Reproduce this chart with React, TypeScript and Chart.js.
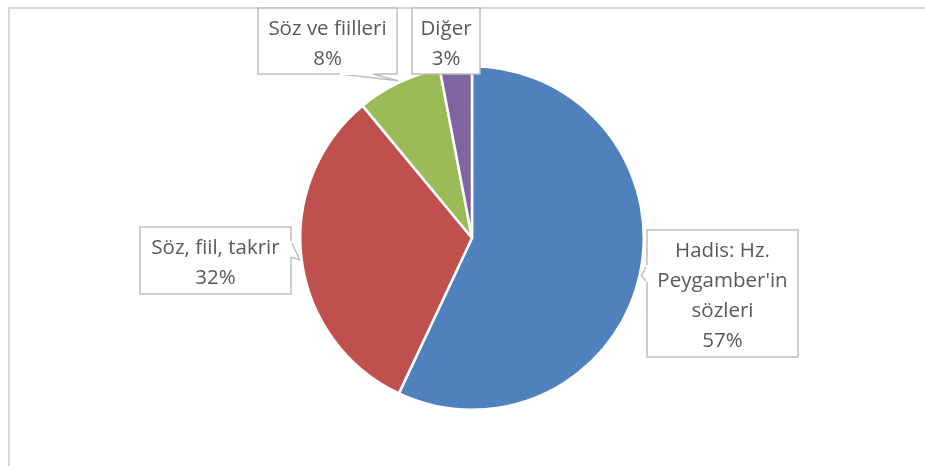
import React, { useEffect, useRef } from "react";
import { Chart, registerables } from "chart.js";

Chart.register(...registerables);

const categories = ["Hadis: Hz. Peygamber'in sözleri", "Söz, fiil, takrir", "Söz ve fiilleri", "Diğer"];
const labelLines = [["Hadis: Hz.", "Peygamber'in", "sözleri"], ["Söz, fiil, takrir"], ["Söz ve fiilleri"], ["Diğer"]];
const values = [57, 32, 8, 3];
const colors = ["#4f81bd", "#c0504d", "#9bbb59", "#8064a2"];

// callout layout: box rect and wedge base (two points on the box edge), tip from arc
const callouts = [
  { x: 647, y: 230, w: 151, h: 127, base: [[647, 265], [647, 282]] },
  { x: 140, y: 227, w: 151, h: 67, base: [[291, 241], [291, 257]] },
  { x: 258, y: 8, w: 139, h: 66, base: [[340, 74], [373, 74]] },
  { x: 412, y: 8, w: 68, h: 66, base: null },
];

const FONT = "20.5px 'Open Sans'";

const calloutPlugin = {
  id: "callouts",
  afterDraw(chart: any) {
    const ctx = chart.ctx as CanvasRenderingContext2D;
    const meta = chart.getDatasetMeta(0);
    ctx.save();
    ctx.strokeStyle = "#d9d9d9";
    ctx.lineWidth = 2;
    ctx.beginPath();
    ctx.moveTo(9, 466);
    ctx.lineTo(9, 8);
    ctx.lineTo(925, 8);
    ctx.stroke();

    meta.data.forEach((arc: any, i: number) => {
      const c = callouts[i];
      const p = arc.getProps(["x", "y", "startAngle", "endAngle", "outerRadius"], true);
      const mid = (p.startAngle + p.endAngle) / 2;
      const tipX = p.x + Math.cos(mid) * (p.outerRadius + 2);
      const tipY = p.y + Math.sin(mid) * (p.outerRadius + 2);
      ctx.fillStyle = "#ffffff";
      ctx.strokeStyle = "#bfbfbf";
      ctx.lineWidth = 1.5;
      ctx.fillRect(c.x, c.y, c.w, c.h);
      ctx.strokeRect(c.x, c.y, c.w, c.h);
      if (c.base) {
        ctx.beginPath();
        ctx.moveTo(c.base[0][0], c.base[0][1]);
        ctx.lineTo(tipX, tipY);
        ctx.lineTo(c.base[1][0], c.base[1][1]);
        ctx.closePath();
        ctx.fill();
        ctx.beginPath();
        ctx.moveTo(c.base[0][0], c.base[0][1]);
        ctx.lineTo(tipX, tipY);
        ctx.lineTo(c.base[1][0], c.base[1][1]);
        ctx.stroke();
        ctx.beginPath();
        ctx.moveTo(c.base[0][0], c.base[0][1]);
        ctx.lineTo(c.base[1][0], c.base[1][1]);
        ctx.strokeStyle = "#ffffff";
        ctx.lineWidth = 2;
        ctx.stroke();
      }
      const total = values.reduce((a, b) => a + b, 0);
      const pct = Math.round((values[i] / total) * 100) + "%";
      const lines = [...labelLines[i], pct];
      const lh = 30;
      ctx.fillStyle = "#595959";
      ctx.font = FONT;
      ctx.textAlign = "center";
      ctx.textBaseline = "middle";
      const cx = c.x + c.w / 2;
      const startY = c.y + c.h / 2 + 3 - ((lines.length - 1) * lh) / 2;
      lines.forEach((t, k) => ctx.fillText(t, cx, startY + k * lh));
    });
    ctx.restore();
  },
};

export default function App() {
  const ref = useRef<HTMLCanvasElement>(null);
  useEffect(() => {
    const chart = new Chart(ref.current!, {
      type: "pie",
      data: {
        labels: categories,
        datasets: [
          {
            data: values,
            backgroundColor: colors,
            borderColor: "#ffffff",
            borderWidth: 2.5,
          },
        ],
      },
      options: {
        responsive: false,
        animation: false,
        layout: { padding: { left: 299, right: 280, top: 65, bottom: 55 } },
        plugins: { legend: { display: false }, tooltip: { enabled: false } },
      },
      plugins: [calloutPlugin],
    });
    return () => chart.destroy();
  }, []);
  return (
    <div style={{ position: "fixed", left: 0, top: 0, width: 925, height: 466, background: "#fff" }}>
      <canvas ref={ref} width={925} height={466} style={{ display: "block" }} />
    </div>
  );
}
